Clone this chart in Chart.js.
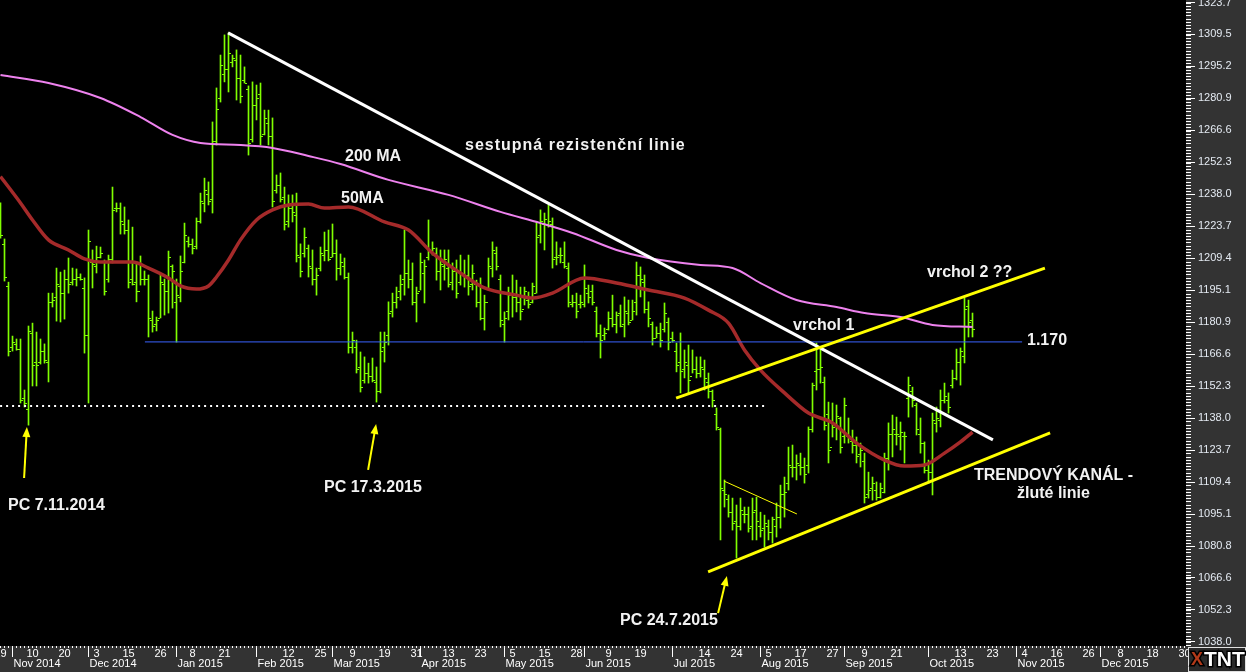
<!DOCTYPE html>
<html>
<head>
<meta charset="utf-8">
<script src="https://cdn.jsdelivr.net/npm/chart.js@4.4.0/dist/chart.umd.min.js"></script>
<style>
  html, body { margin: 0; padding: 0; background: #000; overflow: hidden; }
  canvas { display: block; }
</style>
</head>
<body>
<canvas id="goldChart" width="1246" height="672"></canvas>
<script>
// daily bars, index 0 = 29 Oct 2014 (trading days only)
const highs = [
  1234.2, 1218.1, 1198.8, 1174.7, 1173.4, 1173.4, 1150.6, 1179.2, 1180.5, 1176.5,
  1173.4, 1171.2, 1193.9, 1193.9, 1205.1, 1203.3, 1204.2, 1209.6, 1205.1, 1204.7,
  1202.5, 1200.7, 1222.1, 1213.2, 1214.9, 1214.5, 1208.7, 1210.9, 1241.3, 1234.2,
  1234.2, 1232.4, 1226.6, 1223.4, 1207.8, 1210.5, 1203.8, 1202.0, 1185.9, 1183.2,
  1202.5, 1200.2, 1212.7, 1206.5, 1200.2, 1210.5, 1225.2, 1219.0, 1218.1, 1227.5,
  1238.6, 1245.3, 1243.6, 1270.4, 1285.6, 1300.3, 1309.3, 1310.2, 1300.3, 1302.6,
  1300.3, 1295.0, 1286.5, 1288.3, 1286.9, 1287.8, 1275.7, 1275.7, 1272.2, 1246.7,
  1247.6, 1241.3, 1237.8, 1237.8, 1238.6, 1215.9, 1223.0, 1215.4, 1213.2, 1205.1,
  1214.5, 1221.2, 1222.1, 1224.8, 1217.7, 1211.4, 1209.6, 1202.9, 1176.5, 1172.9,
  1167.6, 1165.4, 1162.6, 1164.9, 1160.9, 1176.5, 1176.5, 1190.0, 1193.9, 1196.6,
  1202.0, 1222.1, 1208.7, 1207.4, 1196.6, 1211.8, 1208.7, 1226.6, 1216.8, 1214.1,
  1213.2, 1213.2, 1213.2, 1207.4, 1208.7, 1210.9, 1208.7, 1210.9, 1206.5, 1199.7,
  1200.7, 1193.0, 1209.6, 1216.8, 1214.5, 1202.0, 1185.5, 1196.6, 1202.0, 1199.7,
  1196.6, 1196.6, 1194.4, 1198.4, 1225.7, 1231.1, 1229.7, 1233.3, 1227.5, 1216.8,
  1214.1, 1216.8, 1207.4, 1193.0, 1193.9, 1193.0, 1206.5, 1197.5, 1197.5, 1187.7,
  1179.7, 1178.3, 1185.5, 1193.0, 1185.5, 1188.6, 1192.2, 1190.8, 1190.8, 1207.8,
  1205.6, 1202.0, 1190.0, 1181.0, 1178.8, 1180.5, 1189.5, 1182.8, 1176.5, 1171.6,
  1176.1, 1168.5, 1170.7, 1168.5, 1165.4, 1165.4, 1164.0, 1158.2, 1150.6, 1142.6,
  1133.6, 1110.4, 1103.7, 1102.3, 1099.2, 1102.3, 1098.3, 1098.3, 1102.3, 1102.7,
  1096.0, 1094.7, 1092.5, 1093.8, 1100.1, 1108.1, 1111.7, 1125.1, 1126.0, 1121.6,
  1122.4, 1120.2, 1134.1, 1153.7, 1171.6, 1168.5, 1156.4, 1145.2, 1144.8, 1143.9,
  1138.5, 1147.0, 1138.1, 1132.7, 1129.6, 1126.9, 1122.4, 1113.9, 1111.7, 1109.5,
  1109.0, 1122.4, 1135.9, 1139.4, 1138.5, 1136.3, 1131.8, 1156.4, 1151.9, 1144.8,
  1138.1, 1127.4, 1119.3, 1140.3, 1143.0, 1150.6, 1153.7, 1149.3, 1159.5, 1168.9,
  1169.4, 1191.7, 1190.8, 1185.0
];
const lows = [
  1218.5, 1199.3, 1165.8, 1168.0, 1168.4, 1144.8, 1143.0, 1134.9, 1152.4, 1152.4,
  1162.2, 1162.6, 1154.2, 1187.7, 1181.4, 1181.0, 1182.3, 1193.9, 1197.5, 1197.1,
  1199.7, 1167.1, 1144.8, 1196.2, 1202.9, 1209.6, 1193.0, 1198.8, 1207.4, 1230.2,
  1220.3, 1220.3, 1196.2, 1197.5, 1190.0, 1197.5, 1197.5, 1174.3, 1176.5, 1177.0,
  1182.8, 1184.1, 1185.0, 1187.2, 1172.0, 1190.0, 1207.4, 1214.5, 1211.4, 1213.6,
  1225.2, 1230.2, 1233.3, 1229.7, 1260.1, 1279.3, 1288.3, 1283.8, 1295.0, 1280.2,
  1278.9, 1287.8, 1255.6, 1261.4, 1271.3, 1260.1, 1264.6, 1260.1, 1232.4, 1238.6,
  1234.6, 1222.1, 1223.4, 1225.7, 1207.8, 1201.1, 1210.0, 1201.1, 1197.5, 1193.0,
  1203.8, 1208.3, 1208.3, 1210.0, 1199.7, 1202.0, 1200.2, 1167.1, 1167.1, 1158.2,
  1149.7, 1153.7, 1153.7, 1154.2, 1145.2, 1149.3, 1163.1, 1170.7, 1183.2, 1187.2,
  1190.8, 1193.0, 1196.2, 1188.6, 1181.0, 1195.3, 1189.5, 1208.7, 1210.9, 1199.7,
  1195.3, 1199.7, 1196.6, 1195.3, 1191.7, 1197.5, 1196.6, 1193.0, 1195.3, 1187.7,
  1181.9, 1177.4, 1195.3, 1201.1, 1204.2, 1178.8, 1172.0, 1181.9, 1183.2, 1185.5,
  1181.9, 1188.6, 1187.2, 1189.5, 1193.9, 1216.3, 1213.2, 1223.4, 1205.1, 1206.5,
  1207.4, 1205.1, 1187.7, 1187.7, 1182.8, 1187.2, 1187.7, 1189.5, 1188.6, 1174.3,
  1164.9, 1173.0, 1177.4, 1178.8, 1176.1, 1178.8, 1174.3, 1179.7, 1181.9, 1184.1,
  1192.2, 1185.0, 1178.8, 1170.7, 1173.9, 1169.8, 1176.5, 1168.5, 1172.0, 1158.7,
  1149.3, 1156.0, 1149.3, 1158.2, 1156.0, 1156.4, 1150.6, 1147.0, 1143.0, 1132.7,
  1083.6, 1098.3, 1093.8, 1088.0, 1075.5, 1088.0, 1091.2, 1087.1, 1083.6, 1083.6,
  1084.9, 1080.4, 1083.6, 1082.2, 1084.9, 1088.9, 1093.8, 1105.9, 1111.7, 1110.4,
  1112.6, 1109.0, 1113.5, 1131.8, 1150.6, 1153.7, 1132.7, 1118.0, 1129.6, 1128.3,
  1122.4, 1126.9, 1126.9, 1122.4, 1118.0, 1116.2, 1100.1, 1102.3, 1101.4, 1101.4,
  1102.3, 1104.6, 1114.8, 1120.7, 1126.0, 1123.8, 1118.0, 1138.5, 1143.0, 1130.5,
  1122.4, 1113.5, 1109.0, 1103.7, 1131.8, 1134.1, 1144.8, 1140.3, 1151.5, 1155.1,
  1152.8, 1162.7, 1174.3, 1174.3
];
const opens = [
  1232, 1216, 1197, 1170, 1171, 1169, 1147, 1142, 1176, 1163,
  1163, 1168, 1163, 1190, 1192, 1197, 1194, 1200, 1199, 1200,
  1201, 1196, 1175, 1208, 1206, 1210, 1208, 1200, 1209, 1232,
  1232, 1225, 1222, 1200, 1199, 1195, 1200, 1200, 1182, 1180,
  1183, 1198, 1195, 1206, 1190, 1192, 1208, 1217, 1216, 1215,
  1226, 1234, 1238, 1236, 1262, 1281, 1292, 1294, 1297, 1298,
  1290, 1289, 1285, 1263, 1278, 1283, 1265, 1270, 1264, 1240,
  1242, 1237, 1226, 1232, 1229, 1210, 1212, 1214, 1205, 1200,
  1205, 1211, 1213, 1210, 1212, 1205, 1206, 1201, 1170, 1170,
  1161, 1155, 1158, 1157, 1154, 1150, 1170, 1175, 1186, 1190,
  1195, 1200, 1203, 1200, 1190, 1195, 1203, 1210, 1213, 1212,
  1204, 1206, 1205, 1199, 1204, 1199, 1203, 1202, 1198, 1198,
  1190, 1183, 1190, 1205, 1212, 1200, 1180, 1186, 1193, 1192,
  1190, 1187, 1191, 1190, 1194, 1220, 1225, 1225, 1225, 1210,
  1211, 1208, 1205, 1189, 1190, 1189, 1189, 1194, 1195, 1186,
  1176, 1175, 1178, 1183, 1180, 1185, 1180, 1185, 1182, 1190,
  1202, 1199, 1187, 1180, 1174, 1176, 1178, 1181, 1174, 1168,
  1163, 1160, 1162, 1157, 1160, 1158, 1160, 1154, 1150, 1140,
  1133, 1106, 1102, 1096, 1092, 1090, 1095, 1095, 1090, 1097,
  1090, 1089, 1090, 1087, 1090, 1094, 1104, 1109, 1116, 1116,
  1117, 1116, 1117, 1133, 1159, 1160, 1154, 1140, 1125, 1135,
  1138, 1130, 1130, 1128, 1126, 1122, 1119, 1104, 1107, 1106,
  1103, 1105, 1120, 1131, 1131, 1130, 1130, 1147, 1150, 1144,
  1131, 1127, 1115, 1114, 1136, 1137, 1146, 1146, 1153, 1156,
  1163, 1166, 1188, 1182
];
const closes = [
  1220, 1201, 1168, 1172, 1169, 1146, 1145, 1177, 1162, 1162,
  1168, 1164, 1190, 1191, 1198, 1194, 1200, 1198, 1200, 1201,
  1200, 1175, 1217, 1207, 1210, 1212, 1195, 1209, 1231, 1232,
  1226, 1222, 1199, 1198, 1195, 1200, 1200, 1183, 1179, 1182,
  1199, 1195, 1210, 1204, 1193, 1204, 1220, 1216, 1214, 1226,
  1235, 1240, 1235, 1262, 1276, 1296, 1294, 1301, 1299, 1290,
  1282, 1288, 1261, 1278, 1281, 1264, 1272, 1264, 1235, 1242,
  1236, 1225, 1232, 1230, 1211, 1204, 1219, 1206, 1200, 1202,
  1212, 1213, 1209, 1212, 1205, 1208, 1201, 1170, 1173, 1160,
  1152, 1158, 1157, 1155, 1150, 1168, 1172, 1185, 1190, 1192,
  1198, 1203, 1200, 1190, 1194, 1208, 1206, 1213, 1214, 1204,
  1207, 1209, 1198, 1204, 1194, 1203, 1201, 1197, 1203, 1190,
  1183, 1190, 1206, 1213, 1206, 1182, 1183, 1193, 1192, 1190,
  1186, 1195, 1189, 1197, 1219, 1226, 1227, 1226, 1209, 1210,
  1211, 1206, 1190, 1190, 1186, 1190, 1196, 1192, 1190, 1176,
  1173, 1176, 1183, 1180, 1184, 1179, 1186, 1181, 1186, 1202,
  1200, 1187, 1183, 1174, 1176, 1173, 1185, 1172, 1173, 1162,
  1159, 1163, 1155, 1160, 1158, 1161, 1156, 1150, 1146, 1134,
  1107, 1104, 1096, 1091, 1090, 1097, 1095, 1089, 1096, 1092,
  1088, 1091, 1087, 1093, 1094, 1104, 1105, 1117, 1116, 1118,
  1116, 1113, 1133, 1153, 1160, 1161, 1135, 1124, 1134, 1139,
  1125, 1144, 1129, 1126, 1121, 1124, 1103, 1106, 1109, 1103,
  1107, 1120, 1131, 1133, 1131, 1132, 1130, 1153, 1146, 1133,
  1127, 1115, 1114, 1137, 1138, 1146, 1148, 1143, 1156, 1163,
  1168, 1187, 1181, 1178
];

// moving averages (bar index, price)
const ma200Idx = [0, 12, 25, 35, 43, 50, 60, 68, 77, 85, 97, 112, 125, 135, 143, 154, 162, 175, 183, 190, 199, 209, 216, 225, 233, 243];
const ma200Val = [1291.4, 1287.8, 1281.1, 1272.6, 1264.6, 1261.0, 1260.1, 1258.8, 1255.2, 1251.6, 1244.5, 1237.8, 1230.2, 1225.2, 1220.8, 1213.2, 1209.6, 1206.5, 1205.1, 1198.4, 1190.8, 1187.7, 1185.0, 1183.2, 1179.7, 1178.8];
const ma50Idx = [0, 5, 8, 12, 17, 21, 25, 33, 37, 42, 45, 49, 52, 54, 57, 60, 64, 68, 72, 77, 81, 87, 96, 102, 108, 115, 121, 129, 133, 138, 146, 154, 162, 171, 177, 182, 186, 190, 196, 202, 208, 214, 221, 226, 231, 236, 240, 243];
const ma50Val = [1246.0, 1234.2, 1226.6, 1217.7, 1213.2, 1209.2, 1207.8, 1207.8, 1205.1, 1200.7, 1197.1, 1195.7, 1197.1, 1201.1, 1208.7, 1217.7, 1226.6, 1231.1, 1233.3, 1233.7, 1231.9, 1232.4, 1225.7, 1222.1, 1211.8, 1202.9, 1196.2, 1193.0, 1191.7, 1193.9, 1200.7, 1198.4, 1195.3, 1191.7, 1186.3, 1180.5, 1168.5, 1159.5, 1149.3, 1140.3, 1135.9, 1126.9, 1119.3, 1116.6, 1117.1, 1122.4, 1127.4, 1131.8];

// hand drawn lines: [index, price] end points
const resistanceLine = [[56.9, 1310.2], [248.1, 1128.3]];
const channelUpper = [[168.9, 1147.0], [261.1, 1205.1]];
const channelLower = [[176.9, 1069.3], [262.4, 1131.4]];
const flagLine = [[180.9, 1109.9], [199.1, 1095.2]];
const level1170 = [[36.1, 1172.1], [255.4, 1172.1]];
const lowsLevel = [[-0.1, 1143.5], [191.9, 1143.5]];
const arrows = [[5.9, 1111.3, 6.6, 1134.1], [91.9, 1114.9, 93.9, 1135.4], [179.4, 1050.9, 181.6, 1067.5]];

// axis labels
const yTickLabels = ['1038.0', '1052.3', '1066.6', '1080.8', '1095.1', '1109.4', '1123.7', '1138.0', '1152.3', '1166.6', '1180.9',
  '1195.1', '1209.4', '1223.7', '1238.0', '1252.3', '1266.6', '1280.9', '1295.2', '1309.5', '1323.7'];
const monthIdx = [3, 22, 44, 64, 83, 105, 126, 146, 168, 190, 211, 232, 254, 275];
const monthNames = ['Nov 2014', 'Dec 2014', 'Jan 2015', 'Feb 2015', 'Mar 2015', 'Apr 2015', 'May 2015', 'Jun 2015',
  'Jul 2015', 'Aug 2015', 'Sep 2015', 'Oct 2015', 'Nov 2015', 'Dec 2015'];
const dayIdx = [0, 8, 16, 24, 32, 40, 48, 56, 72, 80, 88, 96, 104, 112, 120, 128, 136, 144, 152, 160,
  176, 184, 192, 200, 208, 216, 224, 240, 248, 256, 264, 272, 280, 288, 296];
const dayText = ['29', '10', '20', '3', '15', '26', '8', '21', '12', '25', '9', '19', '31', '13', '23', '5', '15', '28', '9', '19',
  '14', '24', '5', '17', '27', '9', '21', '13', '23', '4', '16', '26', '8', '18', '30'];

// text notes: text, left, middle (pixels), extra letter spacing
const notes = [
  ['sestupná rezistenční linie', 465, 146, 1],
  ['200 MA', 345, 157, 0],
  ['50MA', 341, 199, 0],
  ['vrchol 2 ??', 927, 273, 0],
  ['vrchol 1', 793, 326, 0],
  ['1.170', 1027, 341, 0],
  ['TRENDOVÝ KANÁL -', 974, 476, 0],
  ['žluté linie', 1017, 494, 0],
  ['PC 7.11.2014', 8, 506, 0],
  ['PC 17.3.2015', 324, 488, 0],
  ['PC 24.7.2015', 620, 621, 0]
];

const FONT = '"Liberation Sans", Arial, sans-serif';
const BAR_GREEN = '#80ff00';

function pts(line) {
  return line.map(p => ({ x: p[0], y: p[1] }));
}

function lineSet(data, color, width, order, extra) {
  return Object.assign({
    type: 'line',
    data: data,
    borderColor: color,
    borderWidth: width,
    pointRadius: 0,
    fill: false,
    order: order
  }, extra || {});
}

const panelBg = {
  id: 'panelBg',
  beforeDraw(chart) {
    const { ctx, chartArea: a } = chart;
    ctx.save();
    ctx.fillStyle = '#333333';
    ctx.fillRect(0, 0, chart.width, chart.height);
    ctx.fillStyle = '#000000';
    ctx.fillRect(a.left, a.top, a.right - a.left, a.bottom - a.top);
    ctx.restore();
  }
};

const ohlcTicks = {
  id: 'ohlcTicks',
  afterDatasetDraw(chart, args) {
    if (args.index !== 0) return;
    const { ctx, scales: { x, y } } = chart;
    ctx.save();
    ctx.fillStyle = BAR_GREEN;
    for (let i = 0; i < highs.length; i++) {
      const px = Math.round(x.getPixelForValue(i) - 0.5);
      ctx.fillRect(px - 2, Math.round(y.getPixelForValue(opens[i])), 2, 1);
      ctx.fillRect(px + 1, Math.round(y.getPixelForValue(closes[i])), 2, 1);
    }
    ctx.restore();
  }
};

const annotations = {
  id: 'annotations',
  afterDatasetsDraw(chart) {
    const { ctx, scales: { x, y } } = chart;
    ctx.save();
    // yellow arrows
    ctx.strokeStyle = '#ffff00';
    ctx.fillStyle = '#ffff00';
    ctx.lineWidth = 2;
    arrows.forEach(a => {
      const x0 = x.getPixelForValue(a[0]), y0 = y.getPixelForValue(a[1]);
      const x1 = x.getPixelForValue(a[2]), y1 = y.getPixelForValue(a[3]);
      const ang = Math.atan2(y1 - y0, x1 - x0);
      ctx.beginPath();
      ctx.moveTo(x0, y0);
      ctx.lineTo(x1 - 6 * Math.cos(ang), y1 - 6 * Math.sin(ang));
      ctx.stroke();
      ctx.beginPath();
      ctx.moveTo(x1, y1);
      ctx.lineTo(x1 - 10 * Math.cos(ang) + 4 * Math.sin(ang), y1 - 10 * Math.sin(ang) - 4 * Math.cos(ang));
      ctx.lineTo(x1 - 10 * Math.cos(ang) - 4 * Math.sin(ang), y1 - 10 * Math.sin(ang) + 4 * Math.cos(ang));
      ctx.closePath();
      ctx.fill();
    });
    // texts
    ctx.font = 'bold 16px ' + FONT;
    ctx.textBaseline = 'middle';
    ctx.textAlign = 'left';
    ctx.fillStyle = '#f2f2f2';
    notes.forEach(n => {
      ctx.letterSpacing = n[3] + 'px';
      ctx.fillText(n[0], n[1], n[2]);
    });
    ctx.letterSpacing = '0px';
    ctx.restore();
  }
};

const axisDecor = {
  id: 'axisDecor',
  afterDraw(chart) {
    const { ctx, chartArea: a, scales: { x, y } } = chart;
    ctx.save();
    ctx.fillStyle = '#ffffff';
    // minor ticks on the price axis
    const first = parseFloat(yTickLabels[0]);
    const step = (parseFloat(yTickLabels[yTickLabels.length - 1]) - first) / 200;
    for (let k = -2; k <= 202; k++) {
      const v = first + k * step;
      if (v < y.min || v > y.max) continue;
      ctx.fillRect(a.right, Math.round(y.getPixelForValue(v)), 5, 1);
    }
    // day ticks and month ticks on the time axis
    for (let i = 0; i <= Math.floor(x.max); i++) {
      ctx.fillRect(Math.round(x.getPixelForValue(i) - 0.5), a.bottom, 1, 2);
    }
    monthIdx.forEach(m => ctx.fillRect(Math.round(x.getPixelForValue(m) - 0.5), a.bottom, 1, 11));
    ctx.font = '11px ' + FONT;
    ctx.textBaseline = 'middle';
    ctx.textAlign = 'center';
    dayIdx.forEach((d, i) => ctx.fillText(dayText[i], x.getPixelForValue(d), a.bottom + 8));
    ctx.textAlign = 'left';
    monthIdx.forEach((m, i) => ctx.fillText(monthNames[i], x.getPixelForValue(m) + 1, a.bottom + 18));

    // TNT logo in the corner
    const lx = a.right + 2, ly = a.bottom + 1;
    ctx.fillStyle = '#e0e0e0';
    ctx.fillRect(lx, ly, chart.width - lx, chart.height - ly);
    ctx.fillStyle = '#2a2a2a';
    ctx.fillRect(lx + 1, ly + 1, chart.width - lx - 2, chart.height - ly - 2);
    ctx.font = 'bold 18px ' + FONT;
    ctx.textBaseline = 'middle';
    ctx.lineWidth = 3;
    ctx.strokeStyle = '#000';
    ctx.strokeText('X', lx + 3, ly + 13);
    ctx.fillStyle = '#b33a1a';
    ctx.fillText('X', lx + 3, ly + 13);
    ctx.font = 'bold 21px ' + FONT;
    ctx.strokeText('TNT', lx + 16, ly + 13);
    ctx.fillStyle = '#ffffff';
    ctx.fillText('TNT', lx + 16, ly + 13);
    ctx.restore();
  }
};

new Chart(document.getElementById('goldChart'), {
  type: 'bar',
  data: {
    datasets: [
      {
        type: 'bar',
        data: highs.map((h, i) => ({ x: i, y: [lows[i], h] })),
        backgroundColor: BAR_GREEN,
        borderWidth: 0,
        barThickness: 1,
        order: 10
      },
      lineSet(ma200Idx.map((v, i) => ({ x: v, y: ma200Val[i] })), '#ee82ee', 2, 6, { cubicInterpolationMode: 'monotone' }),
      lineSet(ma50Idx.map((v, i) => ({ x: v, y: ma50Val[i] })), '#a52a2a', 3.5, 5, { cubicInterpolationMode: 'monotone' }),
      lineSet(pts(level1170), '#3a62ff', 1, 4),
      lineSet(pts(lowsLevel), '#ffffff', 2, 4, { borderDash: [2, 4] }),
      lineSet(pts(flagLine), '#ffff00', 1, 3),
      lineSet(pts(resistanceLine), '#ffffff', 3, 2),
      lineSet(pts(channelUpper), '#ffff00', 3, 1),
      lineSet(pts(channelLower), '#ffff00', 3, 1)
    ]
  },
  options: {
    responsive: false,
    animation: false,
    devicePixelRatio: 1,
    events: [],
    layout: { padding: 0 },
    plugins: {
      legend: { display: false },
      tooltip: { enabled: false }
    },
    scales: {
      x: {
        type: 'linear',
        min: -0.125,
        max: 296.375,
        offset: false,
        grid: { display: false },
        border: { display: false },
        ticks: { display: false },
        afterFit: s => { s.height = 26; }
      },
      y: {
        type: 'linear',
        position: 'right',
        min: 1036.2,
        max: 1324.9,
        border: { display: false },
        grid: {
          drawOnChartArea: false,
          drawTicks: true,
          tickLength: 9,
          tickColor: '#ffffff'
        },
        afterBuildTicks: s => {
          s.ticks = yTickLabels.map(v => ({ value: parseFloat(v) }));
        },
        ticks: {
          autoSkip: false,
          padding: 3,
          color: '#e4eaf2',
          font: { family: FONT, size: 11 },
          callback: v => v.toFixed(1)
        },
        afterFit: s => {
          s.width = 60;
          s.paddingTop = 0;
          s.paddingBottom = 0;
        }
      }
    }
  },
  plugins: [panelBg, ohlcTicks, annotations, axisDecor]
});
</script>
</body>
</html>
